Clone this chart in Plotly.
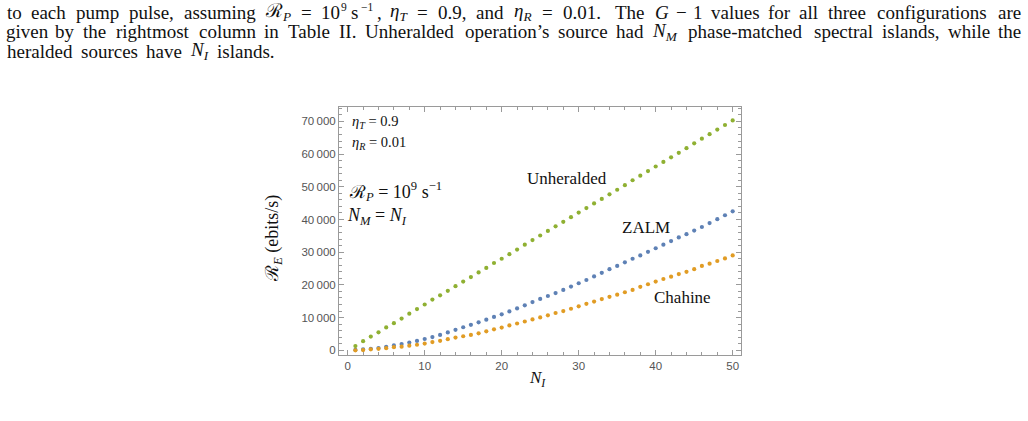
import plotly.graph_objects as go

# ---------------- data ----------------
n_islands = list(range(1, 51))
unheralded = [1300, 2800, 4200, 5500, 7000, 8300, 9700, 11200, 12600, 14000,
              15500, 16800, 18200, 19600, 21000, 22400, 23800, 25200, 26700, 28000,
              29400, 30800, 32300, 33700, 35100, 36500, 37900, 39300, 40700, 42100,
              43500, 44900, 46300, 47700, 49100, 50500, 52000, 53400, 54800, 56200,
              57600, 59000, 60400, 61800, 63300, 64700, 66100, 67500, 68900, 70300]
zalm = [100, 250, 450, 700, 1050, 1500, 1900, 2350, 2850, 3450,
        4050, 4700, 5450, 6250, 7050, 7800, 8550, 9350, 10200, 11000,
        11900, 12800, 13750, 14750, 15700, 16600, 17500, 18450, 19500, 20500,
        21500, 22600, 23700, 24800, 25800, 26900, 28000, 29000, 30100, 31200,
        32300, 33400, 34500, 35500, 36600, 37700, 38900, 40100, 41300, 42500]
chahine = [0, 80, 300, 450, 650, 950, 1100, 1400, 1700, 2050,
           2500, 2900, 3400, 3900, 4300, 4700, 5200, 5800, 6400, 6950,
           7600, 8200, 8800, 9450, 10050, 10700, 11400, 12000, 12700, 13450,
           14200, 14900, 15650, 16350, 17000, 17750, 18450, 19400, 20200, 21000,
           21800, 22500, 23300, 24000, 24800, 25800, 26500, 27300, 28100, 29000]
series_names = ["ZALM", "Chahine", "Unheralded"]
x_tickvals = [0, 10, 20, 30, 40, 50]
y_tickvals = [0, 10000, 20000, 30000, 40000, 50000, 60000, 70000]

# ---------------- layout helpers ----------------
W, H = 1028, 421
L, R, T, B = 339, 741, 107, 355   # frame in pixels


def px(x):
    return (x - L) / (R - L)


def py(y):
    return (B - y) / (B - T)


colors = {"ZALM": "#5E81B5", "Chahine": "#E19C24", "Unheralded": "#8FB032"}
data = {"ZALM": zalm, "Chahine": chahine, "Unheralded": unheralded}

fig = go.Figure()
for name in series_names:
    fig.add_trace(go.Scatter(x=n_islands, y=data[name], mode="markers", name=name,
                             marker=dict(color=colors[name], size=4.2, line=dict(width=0))))

frame = "#9a9a9a"
tickfont = dict(family="Liberation Sans, Arial, sans-serif", size=11.5, color="#555555")
axis_common = dict(showgrid=False, zeroline=False, showline=True, linecolor=frame, linewidth=1,
                   mirror="allticks", ticks="inside", ticklen=5, tickwidth=1, tickcolor=frame,
                   tickfont=tickfont)
fig.update_xaxes(range=[-1.13, 51.08], tickvals=x_tickvals,
                 minor=dict(dtick=2, ticks="inside", ticklen=3, tickcolor=frame, tickwidth=1),
                 **axis_common)
fig.update_yaxes(range=[-1440, 74400], tickvals=y_tickvals, tickformat=",d",
                 minor=dict(dtick=2000, ticks="inside", ticklen=3, tickcolor=frame, tickwidth=1),
                 **axis_common)

serif = "Liberation Serif, Times New Roman, serif"
ann = []


def txt(text, x, y, size=16, xanchor="left", textangle=0, yanchor="middle"):
    ann.append(dict(text=text, x=px(x), y=py(y), xref="paper", yref="paper",
                    xanchor=xanchor, yanchor=yanchor, showarrow=False, textangle=textangle,
                    borderpad=0,
                    font=dict(family=serif, size=size, color="#111111")))


# ---- caption typeset like a justified LaTeX paragraph (Computer Modern metrics) ----
CM = dict(a=.5, b=.556, c=.444, d=.556, e=.444, f=.306, g=.5, h=.556, i=.278, j=.306,
          k=.528, l=.278, m=.833, n=.556, o=.5, p=.556, q=.528, r=.392, s=.394, t=.389,
          u=.556, v=.528, w=.722, x=.528, y=.528, z=.444, T=.722, I=.361, U=.75)
CM.update({".": .278, ",": .278, "-": .333, "’": .278})
GAPS = {"w": (0.333, 0.167), "c": (0.333, 0.208), "s": (0.444, 0.5),
        "k": (0.278, 0.278), "m": (0.222, 0.111)}
EM = 18.5          # caption em size in px
CAP_SIZE = 19      # rendering size (Liberation Serif is narrower than CM)
PAD_SUB = "<sub>\u200b</sub>"   # equalise box heights (all tokens get a subscript box)


def cmw(s):
    return sum(CM.get(ch, 0.5) for ch in s)


def W_(word, gap="w"):
    return (word, cmw(word), gap)


def caption_line(tokens, y, x0=6, x1=1022, justify=True):
    nat = sum(t[1] for t in tokens) * EM
    gaps = [t[2] for t in tokens[:-1]]
    nat += sum(GAPS[g][0] for g in gaps) * EM
    st = sum(GAPS[g][1] for g in gaps) * EM
    r = (x1 - x0 - nat) / st if justify else 0.0
    x = x0
    for k, (html, w, g) in enumerate(tokens):
        if isinstance(html, list):          # pieces: (text, width_em, superscript?)
            xx = x
            for piece, pw, sup in html:
                if piece and sup:
                    txt(piece, xx + pw * EM / 2, 0, size=11.5, xanchor="center",
                        yanchor="top")
                elif piece:
                    txt(piece + PAD_SUB, xx + pw * EM / 2, y, size=CAP_SIZE, xanchor="center")
                xx += pw * EM
        else:
            if "<sub>" not in html:
                html = html + PAD_SUB
            txt(html, x + w * EM / 2, y, size=CAP_SIZE, xanchor="center")
        x += w * EM
        if k < len(tokens) - 1:
            x += (GAPS[g][0] + r * GAPS[g][1]) * EM


power = [("10", 1.0, False), ("9", 0.42, True), ("", 0.167, False),
         ("s", 0.394, False), ("−1", 1.0, True), (",", 0.278, False)]
line1 = [W_("to"), W_("each"), W_("pump"), W_("pulse,", "c"), W_("assuming"),
         ("ℛ<sub><i>P</i></sub>", 1.37, "k"), ("=", 0.778, "k"),
         (power, sum(p[1] for p in power), "c"),
         ("<i>η</i><sub><i>T</i></sub>", 0.95, "k"), ("=", 0.778, "k"), ("0.9,", 1.556, "c"),
         W_("and"),
         ("<i>η</i><sub><i>R</i></sub>", 1.03, "k"), ("=", 0.778, "k"), ("0.01.", 2.056, "s"),
         W_("The"), ("<i>G</i>", 0.786, "m"), ("−", 0.778, "m"), ("1", 0.5, "w"),
         W_("values"), W_("for"), W_("all"), W_("three"), W_("configurations"), W_("are")]
line2 = [W_("given"), W_("by"), W_("the"), W_("rightmost"), W_("column"), W_("in"),
         W_("Table"), W_("II."), W_("Unheralded"), W_("operation’s"), W_("source"), W_("had"),
         ("<i>N</i><sub><i>M</i></sub>", 1.48, "w"), W_("phase-matched"), W_("spectral"),
         W_("islands,", "c"), W_("while"), W_("the")]
line3 = [W_("heralded"), W_("sources"), W_("have"),
         ("<i>N</i><sub><i>I</i></sub>", 1.15, "w"), W_("islands.")]
caption_line(line1, 12)
caption_line(line2, 32)
caption_line(line3, 51.5, justify=False)

# in-plot labels
txt("<i>η</i><sub><i>T</i></sub> = 0.9", 351, 122, size=14.5)
txt("<i>η</i><sub><i>R</i></sub> = 0.01", 351, 143, size=14.5)
txt("ℛ<sub><i>P</i></sub> = 10<sup>9</sup> s<sup>−1</sup>", 348, 191, size=18)
txt("<i>N</i><sub><i>M</i></sub> = <i>N</i><sub><i>I</i></sub>", 346, 216, size=18)
txt("Unheralded", 567, 178, size=17, xanchor="center")
txt("ZALM", 646, 227, size=17, xanchor="center")
txt("Chahine", 682, 297, size=17, xanchor="center")

# axis titles
txt("ℛ<sub><i>E</i></sub> (ebits/s)", 273, 239, size=18, xanchor="center", textangle=-90)
txt("<i>N</i><sub><i>I</i></sub>", 537, 379, size=17, xanchor="center")

fig.update_layout(width=W, height=H, autosize=False,
                  margin=dict(l=L, r=W - R, t=T, b=H - B, pad=0),
                  paper_bgcolor="white", plot_bgcolor="white",
                  showlegend=False, separators=".\u2009",
                  annotations=ann)

fig.write_html("out.html", config={"displayModeBar": False})
